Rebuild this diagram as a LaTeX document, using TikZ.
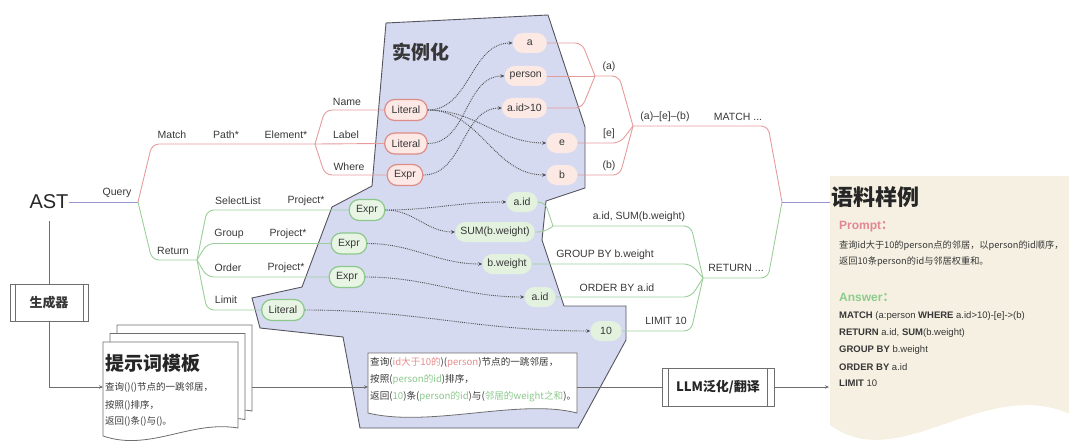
\documentclass[tikz,border=0pt]{standalone}
\usepackage{fontspec}
\setmainfont{Liberation Sans}
\newfontfamily\cjk{Noto Sans CJK SC}
\usetikzlibrary{arrows.meta,calc}
\definecolor{redl}{RGB}{230,155,155}
\definecolor{greenl}{RGB}{155,206,155}
\definecolor{purpl}{RGB}{150,150,205}
\definecolor{pinkb}{RGB}{222,140,135}
\definecolor{pinkf}{RGB}{252,232,228}
\definecolor{pinkr}{RGB}{252,233,228}
\definecolor{greenb}{RGB}{140,200,140}
\definecolor{greenf}{RGB}{232,245,228}
\definecolor{greenr}{RGB}{226,242,222}
\definecolor{polyf}{RGB}{214,218,240}
\definecolor{polyd}{RGB}{85,85,95}
\definecolor{corpusf}{RGB}{245,240,226}
\definecolor{txtc}{RGB}{55,55,55}
\definecolor{dotc}{RGB}{80,80,80}
\definecolor{boxc}{RGB}{110,110,110}
\definecolor{promptc}{RGB}{226,135,145}
\definecolor{answerc}{RGB}{140,205,140}
\definecolor{tpk}{RGB}{232,140,140}
\definecolor{tgr}{RGB}{140,200,140}
\begin{document}
\begin{tikzpicture}[x=1pt,y=-1pt,
  lbl/.style={font=\fontsize{10.5}{12}\selectfont, text=txtc, inner sep=0pt},
  pnode/.style={draw=pinkb, fill=pinkf, line width=1.2pt, rounded corners=10pt, minimum height=21pt, inner xsep=7pt, inner ysep=0pt, font=\fontsize{10.5}{12}\selectfont, text=txtc},
  gnode/.style={pnode, draw=greenb, fill=greenf},
  pres/.style={fill=pinkr, rounded corners=10pt, minimum height=20pt, minimum width=31pt, inner xsep=5pt, inner ysep=0pt, font=\fontsize{10.5}{12}\selectfont, text=txtc},
  gres/.style={pres, fill=greenr},
  br/.style={rounded corners=7pt, line width=0.9pt},
  rl/.style={br, draw=redl},
  gl/.style={br, draw=greenl},
  pl/.style={br, draw=purpl},
  dotarr/.style={densely dotted, line width=0.9pt, draw=dotc, -{Stealth[length=4pt,width=3.5pt]}},
  pbox/.style={draw=boxc, line width=0.8pt, fill=white},
  conn/.style={draw=boxc, line width=0.8pt},
  cjktxt/.style={font=\cjk\fontsize{9.5}{11}\selectfont, text=txtc, inner sep=0pt, anchor=west},
  anstxt/.style={font=\fontsize{9.5}{11}\selectfont, text=txtc, inner sep=0pt, anchor=west},
]
\useasboundingbox (0,0) rectangle (1069,444);

% instantiation region
\draw[fill=polyf, draw=polyd, line width=0.9pt] (386,23) -- (548,15) -- (585,127) -- (585,188) -- (546,201) -- (542,240) -- (564,306) -- (626,306) -- (626,340) -- (578,428) -- (360,428) -- (343,337) -- (260,328) -- (252,298) -- (302,287) -- (332,207) -- (372,186) -- cycle;
\node[anchor=west, inner sep=0pt, font=\cjk\bfseries\fontsize{19}{22}\selectfont, text=txtc] (inst) at (392,52) {实例化};

% corpus box
\fill[corpusf] (830,176) -- (1090,176) -- (1090,425) .. controls (995,360) and (905,480) .. (830,425) -- cycle;

% coordinates
\coordinate (q) at (138,202);
\coordinate (mj) at (315,144);
\coordinate (rj) at (197,260);
\coordinate (mr1) at (595,76);
\coordinate (mr2) at (633,126);
\coordinate (mm) at (782,202);
\coordinate (mg1) at (553,226);
\coordinate (mg2) at (703,278);
\coordinate (cin) at (830,202);

% AST
\node[font=\fontsize{20}{24}\selectfont, inner sep=0pt, text=black!85] (ast) at (49,202) {AST};

% nodes
\node[pnode] (lit1) at (406,110) {Literal};
\node[pnode] (lit2) at (406,143.5) {Literal};
\node[pnode] (expr) at (405,175) {Expr};
\node[pres, anchor=east, minimum width=34pt] (ra) at (547,43) {a};
\node[pres, anchor=east] (rperson) at (547,76) {person};
\node[pres, anchor=east] (raid) at (547,108) {a.id>10};
\node[pres] (re) at (562,143) {e};
\node[pres] (rb) at (562,175) {b};

\node[gnode] (ge1) at (367,210) {Expr};
\node[gnode] (ge2) at (349,243.5) {Expr};
\node[gnode] (ge3) at (347,277) {Expr};
\node[gnode] (glit) at (283,310) {Literal};
\node[gres] (gaid) at (522,202) {a.id};
\node[gres] (gsum) at (495,232) {SUM(b.weight)};
\node[gres] (gbw) at (507,264) {b.weight};
\node[gres] (gaid2) at (540,297) {a.id};
\node[gres] (g10) at (606,331) {10};

% mind-map branches
\draw[pl] (ast.east) -- (q);
\draw[rl] (q) -- ($(q|-mj)+(14,0)$) -- (mj);
\draw[rl] (mj) -- ($(mj|-lit1)+(10,0)$) -- (lit1.west);
\draw[rl] (mj) -- (lit2.west);
\draw[rl] (mj) -- ($(mj|-expr)+(10,0)$) -- (expr.west);
\draw[gl] (q) -- ($(q|-rj)+(14,0)$) -- (rj);
\draw[gl] (rj) -- ($(rj|-ge1)+(10,0)$) -- (ge1.west);
\draw[gl] (rj) -- ($(rj|-ge2)+(10,0)$) -- (ge2.west);
\draw[gl] (rj) -- ($(rj|-ge3)+(10,0)$) -- (ge3.west);
\draw[gl] (rj) -- ($(rj|-glit)+(10,0)$) -- (glit.west);

\draw[rl] (ra.east) -- ($(mr1|-ra)+(-13,0)$) -- (mr1);
\draw[rl] (rperson.east) -- (mr1);
\draw[rl] (raid.east) -- ($(mr1|-raid)+(-13,0)$) -- (mr1);
\draw[rl] (mr1) -- ($(mr2|-mr1)+(-14,0)$) -- (mr2);
\draw[rl] (re.east) -- ($(mr2|-re)+(-13,0)$) -- (mr2);
\draw[rl] (rb.east) -- ($(mr2|-rb)+(-13,0)$) -- (mr2);
\draw[rl] (mr2) -- ($(mm|-mr2)+(-14,0)$) -- (mm);

\draw[gl] (gaid.east) -- ($(mg1|-gaid)+(-8,0)$) -- (mg1);
\draw[gl] (gsum.east) -- ($(mg1|-gsum)+(-8,0)$) -- (mg1);
\draw[gl] (mg1) -- ($(mg2|-mg1)+(-12,0)$) -- (mg2);
\draw[gl] (gbw.east) -- ($(mg2|-gbw)+(-12,0)$) -- (mg2);
\draw[gl] (gaid2.east) -- ($(mg2|-gaid2)+(-12,0)$) -- (mg2);
\draw[gl] (g10.east) -- ($(mg2|-g10)+(-12,0)$) -- (mg2);
\draw[gl] (mg2) -- ($(mm|-mg2)+(-14,0)$) -- (mm);
\draw[pl] (mm) -- (cin);

% branch labels
\node[lbl] (lq) at (117,193) {Query};
\node[lbl] (lmatch) at (172,135) {Match};
\node[lbl] (lpath) at (226,135) {Path*};
\node[lbl] (lelem) at (286,135) {Element*};
\node[lbl] (lname) at (347,102) {Name};
\node[lbl] (llabel) at (346,135) {Label};
\node[lbl] (lwhere) at (349,167) {Where};
\node[lbl] (lret) at (173,251) {Return};
\node[lbl] (lsel) at (238,201) {SelectList};
\node[lbl] (lp1) at (306,201) {Project*};
\node[lbl] (lgrp) at (229,234) {Group};
\node[lbl] (lp2) at (288,234) {Project*};
\node[lbl] (lord) at (228,268) {Order};
\node[lbl] (lp3) at (286,268) {Project*};
\node[lbl] (llim) at (226,300) {Limit};
\node[lbl] (la) at (609,67) {(a)};
\node[lbl] (le) at (609,134) {[e]};
\node[lbl] (lb) at (609,166) {(b)};
\node[lbl] (laeb) at (665,117) {(a)–[e]–(b)};
\node[lbl] (lmq) at (738,117) {MATCH ...};
\node[lbl] (lsum) at (639,217) {a.id, SUM(b.weight)};
\node[lbl] (lgb) at (605,255) {GROUP BY b.weight};
\node[lbl] (lob) at (617,288) {ORDER BY a.id};
\node[lbl] (llim10) at (666,321) {LIMIT 10};
\node[lbl] (lrq) at (736,268) {RETURN ...};

% instantiation arrows
\draw[dotarr] (lit1.east) to[out=0,in=180] (ra.west);
\draw[dotarr] (lit1.east) to[out=0,in=180] (re.west);
\draw[dotarr] (lit1.east) to[out=0,in=180] (rb.west);
\draw[dotarr] (lit2.east) to[out=0,in=180] (rperson.west);
\draw[dotarr] (expr.east) to[out=0,in=180] (raid.west);
\draw[dotarr] (ge1.east) to[out=0,in=180] (gaid.west);
\draw[dotarr] (ge1.east) to[out=0,in=180] (gsum.west);
\draw[dotarr] (ge2.east) to[out=0,in=180] (gbw.west);
\draw[dotarr] (ge3.east) to[out=0,in=180] (gaid2.west);
\draw[dotarr] (glit.east) to[out=0,in=180] (g10.west);

% generator
\node[pbox, minimum width=78pt, minimum height=37pt, font=\cjk\bfseries\fontsize{13}{15}\selectfont, text=txtc] (gen) at (49,302.5) {生成器};
\draw[conn] ($(gen.north west)+(6,0)$) -- ($(gen.south west)+(6,0)$);
\draw[conn] ($(gen.north east)+(-5,0)$) -- ($(gen.south east)+(-5,0)$);
\draw[conn, shorten <=12pt] (ast.south) -- (gen.north);

% prompt template document (multi-page)
\draw[pbox, shift={(117,325)}] (0,0) -- (135,0) -- (135,86) .. controls (87,78) and (47,110) .. (0,94) -- cycle;
\draw[pbox, shift={(110,333.5)}] (0,0) -- (135,0) -- (135,86) .. controls (87,78) and (47,110) .. (0,94) -- cycle;
\draw[pbox, shift={(103,342)}] (0,0) -- (135,0) -- (135,86) .. controls (87,78) and (47,110) .. (0,94) -- cycle;
\coordinate (tplin) at (103,387);
\coordinate (tplout) at (252,387);
\node[anchor=west, inner sep=0pt, font=\cjk\bfseries\fontsize{19}{22}\selectfont, text=black!85] (tpltitle) at (105,363) {提示词模板};
\node[cjktxt] (tl1) at (105,387) {查询()()节点的一跳邻居，};
\node[cjktxt] (tl2) at (105,405) {按照()排序，};
\node[cjktxt] (tl3) at (105,421) {返回()条()与()。};
\draw[conn, -{Stealth[length=4pt,width=3.5pt]}] (gen.south) |- (tplin);

% filled template box
\draw[pbox] (368,353) -- (577,353) -- (577,413) .. controls (520,398) and (430,428) .. (368,413) -- cycle;
\coordinate (tbin) at (368,387);
\coordinate (tbout) at (577,387);
\node[cjktxt, font=\cjk\fontsize{9.6}{12}\selectfont] (fl1) at (370,363) {查询(\textcolor{tpk}{id大于10的})(\textcolor{tpk}{person})节点的一跳邻居，};
\node[cjktxt, font=\cjk\fontsize{9.6}{12}\selectfont] (fl2) at (370,380) {按照(\textcolor{tgr}{person的id})排序，};
\node[cjktxt, font=\cjk\fontsize{9.6}{12}\selectfont] (fl3) at (370,397) {返回(\textcolor{tgr}{10})条(\textcolor{tgr}{person的id})与(\textcolor{tgr}{邻居的weight之和})。};
\draw[conn, -{Stealth[length=4pt,width=3.5pt]}] (tplout) -- (tbin);

% LLM box
\node[pbox, minimum width=112pt, minimum height=38pt, font=\cjk\bfseries\fontsize{13}{15}\selectfont, text=black!85] (llm) at (718,387) {LLM泛化/翻译};
\draw[conn] ($(llm.north west)+(7,0)$) -- ($(llm.south west)+(7,0)$);
\draw[conn] ($(llm.north east)+(-7,0)$) -- ($(llm.south east)+(-7,0)$);
\draw[conn] (tbout) -- (llm.west);
\coordinate (cin2) at (829,387);
\draw[conn, -{Stealth[length=4pt,width=3.5pt]}] (llm.east) -- (cin2);

% corpus contents
\node[anchor=west, inner sep=0pt, font=\cjk\bfseries\fontsize{22}{26}\selectfont, text=black!85] (ctitle) at (831,197) {语料样例};
\node[anchor=west, inner sep=0pt, font=\bfseries\fontsize{12}{14}\selectfont, text=promptc] (cprompt) at (839,227) {Prompt{\cjk ：}};
\node[cjktxt, font=\cjk\fontsize{9.2}{11}\selectfont] (cp1) at (839,246) {查询id大于10的person点的邻居，以person的id顺序，};
\node[cjktxt, font=\cjk\fontsize{9.2}{11}\selectfont] (cp2) at (839,262) {返回10条person的id与邻居权重和。};
\node[anchor=west, inner sep=0pt, font=\bfseries\fontsize{12}{14}\selectfont, text=answerc] (canswer) at (839,297) {Answer{\cjk ：}};
\node[anstxt] (ca1) at (839,316) {\textbf{MATCH} (a:person \textbf{WHERE} a.id>10)-[e]->(b)};
\node[anstxt] (ca2) at (839,333) {\textbf{RETURN} a.id, \textbf{SUM}(b.weight)};
\node[anstxt] (ca3) at (839,350) {\textbf{GROUP BY} b.weight};
\node[anstxt] (ca4) at (839,367) {\textbf{ORDER BY} a.id};
\node[anstxt] (ca5) at (839,383) {\textbf{LIMIT} 10};
\end{tikzpicture}
\end{document}
